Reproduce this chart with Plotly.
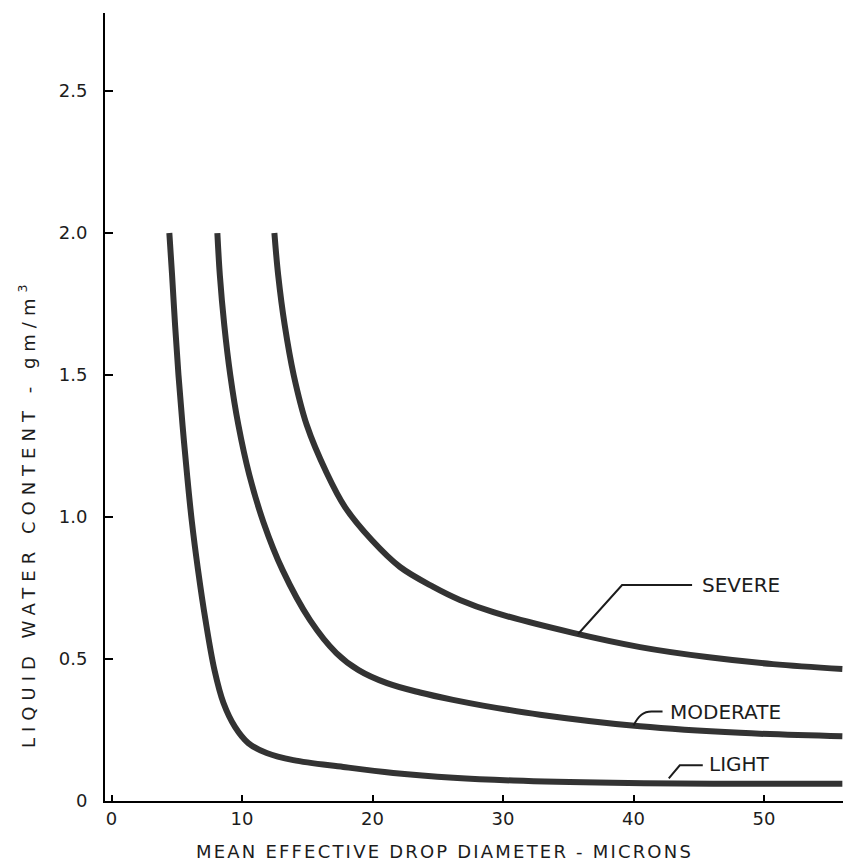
import numpy as np
import plotly.graph_objects as go

# ---- data ----
light_x = [4.43, 4.64, 4.87, 5.13, 5.44, 5.79, 6.15, 6.63, 7.20, 7.89, 8.58, 9.46, 10.48, 11.89, 13.93, 17.76, 21.59, 26.19, 30.8, 38.4, 46.1, 56.0]
light_y = [2.00, 1.852, 1.676, 1.500, 1.324, 1.148, 0.986, 0.813, 0.637, 0.461, 0.345, 0.261, 0.204, 0.169, 0.144, 0.120, 0.099, 0.082, 0.072, 0.064, 0.061, 0.061]

moderate_x = [8.11, 8.30, 8.64, 9.10, 9.72, 10.56, 11.64, 13.11, 15.21, 17.23, 18.93, 21.11, 23.64, 26.17, 28.47, 32.83, 40.5, 48.16, 56.0]
moderate_y = [2.00, 1.852, 1.676, 1.500, 1.324, 1.148, 0.982, 0.813, 0.637, 0.521, 0.461, 0.415, 0.382, 0.356, 0.336, 0.304, 0.263, 0.240, 0.228]

severe_x = [12.48, 12.77, 13.27, 13.96, 14.96, 16.49, 17.89, 19.94, 22.11, 24.66, 26.70, 29.26, 35.36, 40.5, 45.63, 50.69, 56.0]
severe_y = [2.00, 1.852, 1.676, 1.500, 1.324, 1.155, 1.035, 0.919, 0.824, 0.754, 0.708, 0.665, 0.592, 0.542, 0.507, 0.482, 0.465]

series_names = ["LIGHT", "MODERATE", "SEVERE"]
x_ticks = [0, 10, 20, 30, 40, 50]
y_ticks = [0, 0.5, 1.0, 1.5, 2.0, 2.5]
y_tick_text = ["0", "0.5", "1.0", "1.5", "2.0", "2.5"]
x_title = "MEAN EFFECTIVE DROP DIAMETER - MICRONS"
y_title = "LIQUID WATER CONTENT - gm/m<sup>3</sup>"
label_at_x = {"SEVERE": 35.75, "MODERATE": 40.0, "LIGHT": 42.7}

FONT = "DejaVu Sans"
INK = "#1c1c1c"
CURVE = "#333333"

fig = go.Figure()
data = {"LIGHT": (light_x, light_y), "MODERATE": (moderate_x, moderate_y), "SEVERE": (severe_x, severe_y)}
for name in series_names:
    xs, ys = data[name]
    fig.add_trace(go.Scatter(x=xs, y=ys, mode="lines", name=name,
                             line=dict(color=CURVE, width=6, shape="spline", smoothing=1.0),
                             showlegend=False, hoverinfo="skip"))

# leader lines (pixel offsets relative to the anchor point on each curve)
leaders = {
    "SEVERE": dict(path="M 0 0 L 44 49 L 114 49", tx=122, ty=49),
    "MODERATE": dict(path="M 0 0 C 5 10, 10 14, 18 14 L 29 14", tx=34, ty=14),
    "LIGHT": dict(path="M 0 5 L 11 18 L 34 18", tx=38, ty=19),
}
for name in series_names:
    xs, ys = data[name]
    ax = label_at_x[name]
    ay = float(np.interp(ax, xs, ys))
    ld = leaders[name]
    fig.add_shape(type="path", xref="x", yref="y", xsizemode="pixel", ysizemode="pixel",
                  xanchor=ax, yanchor=ay, path=ld["path"],
                  line=dict(color=INK, width=2))
    fig.add_annotation(x=ax, y=ay, xref="x", yref="y", text=name, showarrow=False,
                       xanchor="left", yanchor="middle", xshift=ld["tx"], yshift=ld["ty"],
                       font=dict(family=FONT, size=20, color=INK))

# axis titles
fig.add_annotation(xref="paper", yref="paper", x=0.4607, y=-0.0635,
                   text='<span style="letter-spacing:2.2px">' + x_title + '</span>',
                   showarrow=False, xanchor="center", yanchor="middle",
                   font=dict(family=FONT, size=18, color=INK))
fig.add_annotation(xref="paper", yref="paper", x=-0.1057, y=0.3655, textangle=-90,
                   text='<span style="letter-spacing:6px">' + y_title + '</span>',
                   showarrow=False, xanchor="center", yanchor="middle",
                   font=dict(family=FONT, size=18, color=INK))

fig.update_layout(
    width=843, height=867,
    margin=dict(l=105, r=0, t=13, b=66),
    paper_bgcolor="white", plot_bgcolor="white",
    font=dict(family=FONT, color=INK, size=18),
)
fig.update_xaxes(range=[-0.5, 56.05], showgrid=False, zeroline=False,
                 showline=True, linecolor="black", linewidth=2,
                 ticks="inside", ticklen=6, tickwidth=2, tickcolor="black",
                 tickvals=x_ticks, ticktext=[str(v) for v in x_ticks],
                 tickfont=dict(family=FONT, size=18, color=INK), ticklabelstandoff=0)
fig.update_yaxes(range=[0, 2.775], showgrid=False, zeroline=False,
                 showline=True, linecolor="black", linewidth=2,
                 ticks="inside", ticklen=8, tickwidth=2, tickcolor="black",
                 tickvals=y_ticks, ticktext=y_tick_text,
                 tickfont=dict(family=FONT, size=18, color=INK), ticklabelstandoff=12)

fig.write_html("out.html")
